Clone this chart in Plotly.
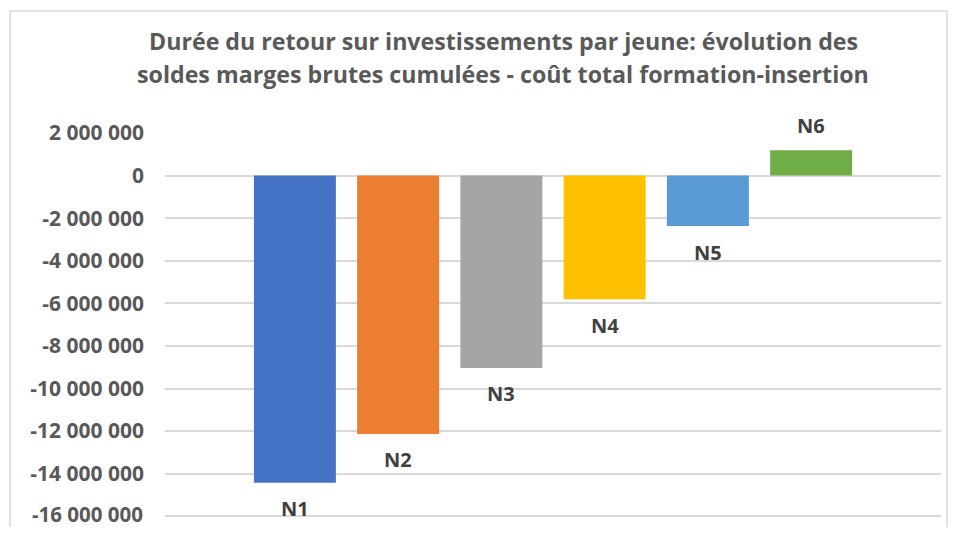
import plotly.graph_objects as go

categories = ["N1", "N2", "N3", "N4", "N5", "N6"]
values = [-14430000, -12130000, -9030000, -5810000, -2370000, 1190000]
colors = ["#4472C4", "#ED7D31", "#A5A5A5", "#FFC000", "#5B9BD5", "#70AD47"]
tick_values = [2000000, 0, -2000000, -4000000, -6000000, -8000000, -10000000,
               -12000000, -14000000, -16000000]
tick_labels = ["2 000 000", "0", "-2 000 000", "-4 000 000", "-6 000 000", "-8 000 000",
               "-10 000 000", "-12 000 000", "-14 000 000", "-16 000 000"]
title_lines = ["Durée du retour sur investissements par jeune: évolution des",
               "soldes marges brutes cumulées - coût total formation-insertion"]

FONT = "Open Sans"
# the page body has an 8px margin on every side; size the figure to fit exactly
W, H = 941, 519
L, R, T, B = 157, 8, 125, 9
PW, PH = W - L - R, H - T - B
Y_MIN, Y_MAX = -16080000, 2000000

fig = go.Figure()
fig.add_trace(go.Bar(
    x=list(range(len(categories))), y=values,
    marker=dict(color=colors, line=dict(width=0)),
    width=0.794, hoverinfo="skip", showlegend=False,
))

for i, (c, v) in enumerate(zip(categories, values)):
    fig.add_annotation(
        x=i, y=v, text="<b>%s</b>" % c, showarrow=False,
        yshift=(-26 if v < 0 else 25), xref="x", yref="y",
        font=dict(family=FONT, size=20, color="#404040"),
    )

# bottom tick label (plotly hides it because it touches the figure edge)
fig.add_annotation(
    x=0, y=tick_values[-1], xref="paper", yref="y", text="<b>%s</b>" % tick_labels[-1],
    showarrow=False, xanchor="right", yanchor="middle", xshift=-20, yshift=2,
    font=dict(family=FONT, size=20.5, color="#595959"),
)

# title lines: figure-pixel centers
for line, yc in zip(title_lines, [33.5, 66.5]):
    fig.add_annotation(
        x=(495 - L) / PW, y=(H - yc - B) / PH, xref="paper", yref="paper",
        text="<b>%s</b>" % line, showarrow=False,
        xanchor="center", yanchor="middle",
        font=dict(family=FONT, size=23.2, color="#595959"),
    )

fig.update_layout(
    width=W, height=H,
    paper_bgcolor="white", plot_bgcolor="white",
    margin=dict(l=L, r=R, t=T, b=B, pad=0),
    xaxis=dict(range=[-1.258, 6.258], showticklabels=False, showgrid=False,
               zeroline=False, showline=False, fixedrange=True),
    yaxis=dict(range=[Y_MIN, Y_MAX], tickvals=tick_values,
               ticktext=["<b>%s</b>" % t for t in tick_labels],
               showgrid=True, gridcolor="#D9D9D9", gridwidth=1.5,
               zeroline=True, zerolinecolor="#D9D9D9", zerolinewidth=1.5,
               showline=False, ticks="", ticklabelstandoff=20,
               tickfont=dict(family=FONT, size=21, color="#595959")),
    shapes=[dict(type="rect", xref="paper", yref="paper",
                 x0=(2 - L) / PW, x1=(939 - L) / PW,
                 y0=-0.2, y1=(H - 3 - B) / PH,
                 line=dict(color="#D9D9D9", width=1.5),
                 fillcolor="rgba(0,0,0,0)", layer="below")],
)

fig.write_html("out.html", config={"displayModeBar": False})
